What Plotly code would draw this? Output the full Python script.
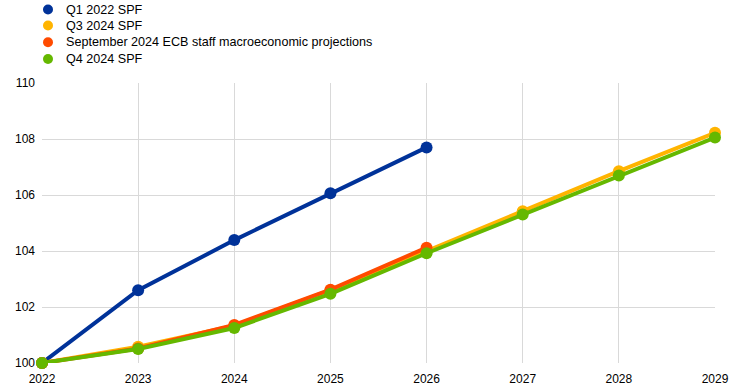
import plotly.graph_objects as go

years_q1 = [2022, 2023, 2024, 2025, 2026]
q1_2022 = [100, 102.6, 104.39, 106.06, 107.7]

years = [2022, 2023, 2024, 2025, 2026, 2027, 2028, 2029]
q3_2024 = [100, 100.58, 101.33, 102.6, 104.0, 105.42, 106.85, 108.22]
years_sep = [2022, 2023, 2024, 2025, 2026]
sep_2024 = [100, 100.52, 101.36, 102.62, 104.12]
q4_2024 = [100, 100.5, 101.25, 102.47, 103.92, 105.3, 106.7, 108.05]

names = ["Q1 2022 SPF", "Q3 2024 SPF", "September 2024 ECB staff macroeconomic projections", "Q4 2024 SPF"]
colors = ["#003299", "#ffb400", "#ff4b00", "#65b800"]
series = [(years_q1, q1_2022), (years, q3_2024), (years_sep, sep_2024), (years, q4_2024)]

W, H = 744, 390
ML, MR, MT, MB = 42, 29, 83, 27
PW, PH = W - ML - MR, H - MT - MB

fig = go.Figure()
for (x, y), c, n in zip(series, colors, names):
    fig.add_trace(go.Scatter(x=x, y=y, mode="lines+markers", name=n, showlegend=False,
                             line=dict(color=c, width=4),
                             marker=dict(color=c, size=12), cliponaxis=False))

# custom legend (tight spacing as in reference)
legend_y_px = [9.5, 25.5, 42.3, 59.0]
for n, c, ypx in zip(names, colors, legend_y_px):
    yp = (H - MB - ypx) / PH
    fig.add_shape(type="circle", xref="paper", yref="paper",
                  xsizemode="pixel", ysizemode="pixel",
                  xanchor=(48 - ML) / PW, yanchor=yp,
                  x0=-5, x1=5, y0=-5, y1=5,
                  fillcolor=c, line=dict(width=0))
    fig.add_annotation(text=n, xref="paper", yref="paper",
                       x=(64 - ML) / PW, y=yp, xanchor="left", yanchor="middle",
                       showarrow=False, font=dict(size=12.6, color="black"))

fig.update_layout(
    width=W, height=H,
    margin=dict(l=ML, r=MR, t=MT, b=MB, autoexpand=False),
    paper_bgcolor="white", plot_bgcolor="white",
    font=dict(family="Liberation Sans, Arial", size=12, color="black"),
    showlegend=False,
    xaxis=dict(range=[2022, 2029], tickvals=years, ticktext=[str(v) for v in years],
               showgrid=True, gridcolor="#d9d9d9", gridwidth=1, zeroline=False,
               showline=False, ticks="", tickfont=dict(size=12), ticklabelstandoff=7),
    yaxis=dict(range=[100, 110], tickvals=[100, 102, 104, 106, 108, 110],
               showgrid=True, gridcolor="#d9d9d9", gridwidth=1, zeroline=False,
               showline=False, ticks="", tickfont=dict(size=12), ticklabelstandoff=6),
)
fig.write_html("out.html", config={"displayModeBar": False},
               post_script="document.body.style.margin='0';document.body.style.overflow='hidden';")
